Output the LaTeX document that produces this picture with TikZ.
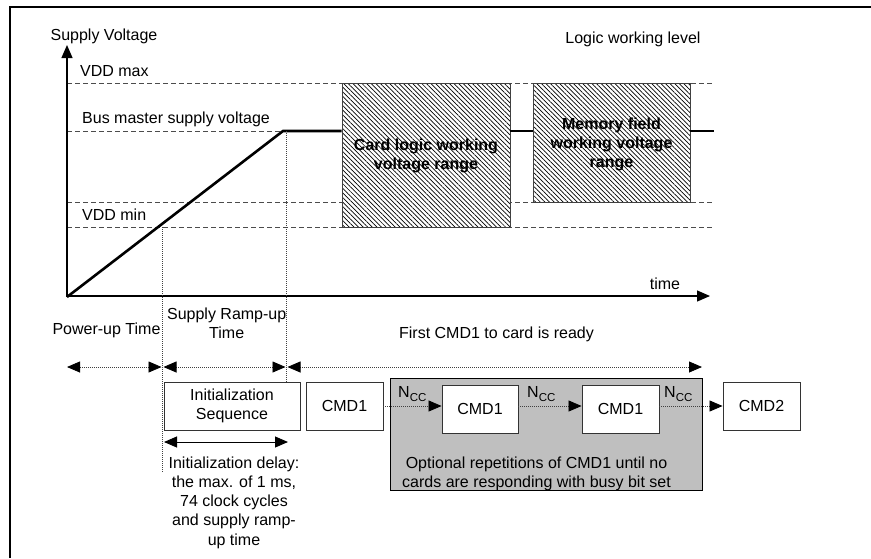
\documentclass[tikz,border=0pt]{standalone}
\usepackage{fontspec}
\setmainfont{Liberation Sans}
\usetikzlibrary{arrows.meta,patterns.meta}
\newcommand\figfont{\fontsize{16}{19.2}\selectfont}
\newcommand\ncc{N\raisebox{-4.5pt}{\fontsize{11.5}{12}\selectfont CC}}
\begin{document}
\begin{tikzpicture}[x=1pt,y=-1pt,
  lbl/.style={font=\figfont, inner sep=0pt},
  blbl/.style={font=\figfont\bfseries, inner sep=0pt, align=center},
  box/.style={draw=black!80, line width=0.9pt, fill=white, font=\figfont, inner sep=0pt, align=center},
  hatch/.style={draw=black!75, line width=0.9pt, preaction={fill=white}, pattern={Lines[angle=-45,distance=3.25pt,line width=0.7pt]}},
  guide/.style={draw=black!70, line width=0.9pt, dash pattern=on 5pt off 3pt},
  vdot/.style={draw=black!75, line width=0.8pt, dash pattern=on 1pt off 1pt},
  tipA/.tip={Triangle[length=13pt,width=11pt,color=black]},
  spanarrow/.style={vdot, tipA-tipA},
  axisline/.style={line width=1.2pt, -{Triangle[length=13pt,width=11pt]}},
  voltline/.style={line width=2.6pt},
  cmdlink/.style={vdot, -tipA}
]
\useasboundingbox (0,0) rectangle (871,558);
% frame
\draw[line width=2pt] (10,558) -- (10,7) -- (871,7);

% coordinates
\coordinate (O) at (67,297);
\coordinate (ytop) at (67,45);
\coordinate (xstart) at (67,296);
\coordinate (xend) at (710,296);
\coordinate (peak) at (283,131);
\coordinate (vend) at (714,131);

% guide lines
\draw[guide] (67,83) -- (714,83);
\draw[guide] (67,131) -- (peak);
\draw[guide] (67,202) -- (714,202);
\draw[guide] (67,227) -- (714,227);

% working ranges
\node[hatch, minimum width=168pt, minimum height=144pt] (card) at (426,155) {};
\node[hatch, minimum width=157pt, minimum height=119pt] (mem) at (611.5,142.5) {};
\node[blbl] (cardtxt) at (426,156) {Card logic working\\voltage range};
\node[blbl] (memtxt) at (611.5,144.5) {Memory field\\working voltage\\range};

% supply voltage curve
\draw[voltline, line join=miter] (O) -- (peak) -- (card.west |- peak);
\draw[voltline] (card.east |- peak) -- (mem.west |- peak);
\draw[voltline] (mem.east |- peak) -- (vend);

% axes
\draw[axisline] (O) -- (ytop);
\draw[axisline] (xstart) -- (xend);

% vertical dotted markers
\coordinate (m1t) at (162,227);
\coordinate (m1b) at (162,473);
\coordinate (m2t) at (286,131);
\coordinate (m2b) at (286,382);
\draw[vdot] (m1t) -- (m1b);
\draw[vdot] (m2t) -- (m2b);

% labels
\node[lbl, anchor=base] (sv) at (104,40) {Supply Voltage};
\node[lbl, anchor=base west] (vmax) at (80,76.5) {VDD max};
\node[lbl, anchor=base west] (bus) at (82,123.5) {Bus master supply voltage};
\node[lbl, anchor=base west] (vmin) at (82,220) {VDD min};
\node[lbl, anchor=base] (lwl) at (633,43) {Logic working level};
\node[lbl, anchor=base] (time) at (665,289) {time};

% time spans
\coordinate (s0) at (67,367);
\coordinate (s1) at (161.5,367);
\coordinate (s2) at (163.5,367);
\coordinate (s3) at (285.5,367);
\coordinate (s4) at (287.5,367);
\coordinate (s5) at (702,367);
\draw[spanarrow] (s0) -- (s1);
\draw[spanarrow] (s2) -- (s3);
\draw[spanarrow] (s4) -- (s5);
\node[lbl, anchor=base] (put) at (106.5,334) {Power-up Time};
\node[lbl, align=center] (srt) at (226.7,323) {Supply Ramp-up\\Time};
\node[lbl, anchor=base] (first) at (496.5,338) {First CMD1 to card is ready};

% command sequence
\node[draw=black, line width=1pt, fill=black!25, minimum width=312pt, minimum height=112pt, inner sep=0pt] (rep) at (546,434) {};
\node[box, minimum width=136pt, minimum height=48pt] (init) at (232,406) {Initialization\\Sequence};
\node[box, minimum width=77pt, minimum height=48pt] (cmda) at (344.5,406) {CMD1};
\node[box, minimum width=76pt, minimum height=48pt] (cmdb) at (480,409) {CMD1};
\node[box, minimum width=77pt, minimum height=48pt] (cmdc) at (620.5,409) {CMD1};
\node[box, minimum width=77pt, minimum height=48pt] (cmdd) at (761.5,406) {CMD2};

\draw[cmdlink] (cmda.east) -- (cmda.east -| cmdb.west);
\draw[cmdlink] (cmdb.east |- cmda.east) -- (cmdc.west |- cmda.east);
\draw[cmdlink] (cmdc.east |- cmda.east) -- (cmdd.west);
\node[lbl, anchor=base west] (n1) at (398,397) {\ncc};
\node[lbl, anchor=base west] (n2) at (527,397) {\ncc};
\node[lbl, anchor=base west] (n3) at (664,397) {\ncc};
\node[lbl, align=center] (reptxt) at (536.5,474) {Optional repetitions of CMD1 until no\\cards are responding with busy bit set};

% initialization delay
\coordinate (d0) at (164,442);
\coordinate (d1) at (288,442);
\draw[line width=1pt, tipA-tipA] (d0) -- (d1);
\node[lbl, align=center] (delaytxt) at (234,502.5) {Initialization delay:\\the max. of 1 ms,\\74 clock cycles\\and supply ramp-\\up time};
\end{tikzpicture}
\end{document}
